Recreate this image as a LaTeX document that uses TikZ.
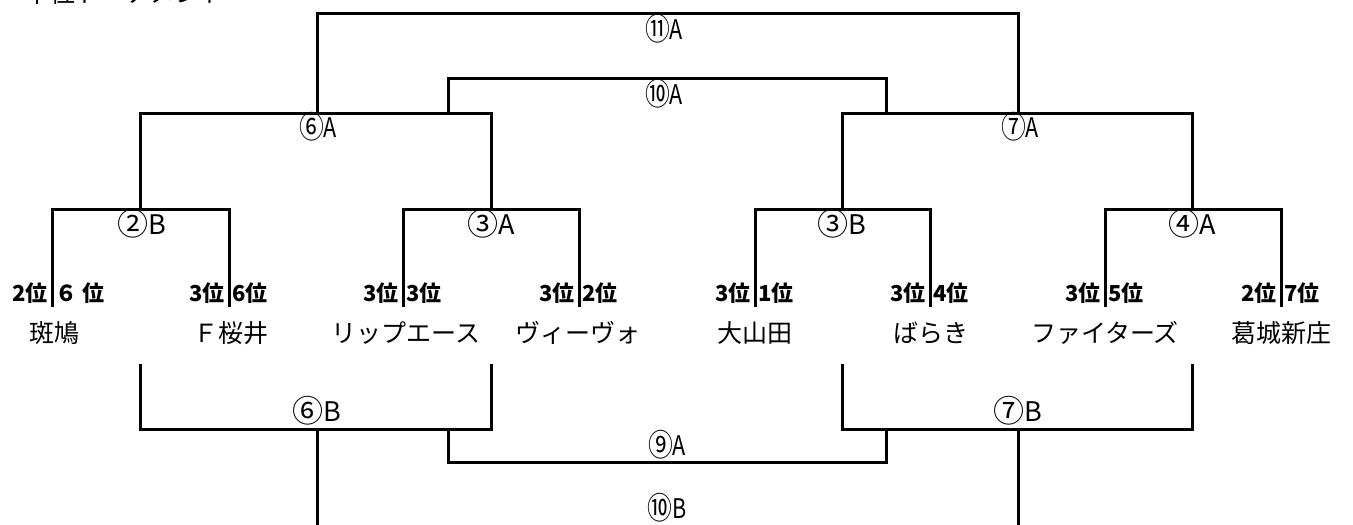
\documentclass[tikz,border=0pt]{standalone}
\usepackage{fontspec}
\setmainfont{Noto Sans CJK JP}
\newcommand\cnum[1]{\raisebox{-0.07em}{\scalebox{1.15}{#1}}}
\begin{document}
\begin{tikzpicture}[x=1pt,y=-1pt,
  ln/.style={line width=3pt, line join=miter},
  team/.style={font=\fontsize{25}{25}\selectfont, inner sep=0pt, anchor=base},
  rankL/.style={font=\fontsize{22}{22}\selectfont\bfseries, inner sep=0pt, anchor=base east},
  rankR/.style={font=\fontsize{22}{22}\selectfont\bfseries, inner sep=0pt, anchor=base west},
  lab/.style={font=\fontsize{27}{27}\selectfont, inner sep=0pt, anchor=base},
  labn/.style={font=\fontsize{27}{27}\selectfont, inner sep=0pt, anchor=base, xscale=0.8},
  ttl/.style={font=\fontsize{25}{25}\selectfont, inner sep=0pt, anchor=base west}]
\useasboundingbox (0,0) rectangle (1353,525);
\clip (0,0) rectangle (1353,525);
% title (cut off at top in the reference)
\node[ttl] (title) at (25,2) {下位トーナメント};
% team line ends
\foreach \n/\x in {1/52,2/229,3/403,4/579,5/755,6/930,7/1105,8/1281}{
  \coordinate (t\n) at (\x,307);
}
\coordinate (r1) at (140,209);
\coordinate (r2) at (491,209);
\coordinate (r3) at (842,209);
\coordinate (r4) at (1192,209);
\coordinate (s1) at (317,113);
\coordinate (s2) at (1018,113);
\coordinate (q1) at (448,113);
\coordinate (q2) at (886,113);
\coordinate (fa) at (667,78);
\coordinate (top) at (667,13);
\coordinate (b1) at (140,364);
\coordinate (b2) at (491,364);
\coordinate (b3) at (842,364);
\coordinate (b4) at (1192,364);
\coordinate (l1) at (317,429);
\coordinate (l2) at (1018,429);
\coordinate (p1) at (448,429);
\coordinate (p2) at (886,429);
\coordinate (na) at (667,462);
\coordinate (e1) at (317,530);
\coordinate (e2) at (1018,530);
% upper lines
\draw[ln] (t1) |- (r1) -| (t2);
\draw[ln] (t3) |- (r2) -| (t4);
\draw[ln] (t5) |- (r3) -| (t6);
\draw[ln] (t7) |- (r4) -| (t8);
\draw[ln] (r1) |- (s1) -| (r2);
\draw[ln] (r3) |- (s2) -| (r4);
\draw[ln] (q1) |- (fa) -| (q2);
\draw[ln] (s1) |- (top) -| (s2);
% lower lines
\draw[ln] (b1) |- (l1) -| (b2);
\draw[ln] (b3) |- (l2) -| (b4);
\draw[ln] (p1) |- (na) -| (p2);
\draw[ln] (l1) -- (e1);
\draw[ln] (l2) -- (e2);
% match labels
\node[labn] (m11a) at (664,39) {\cnum{⑪}A};
\node[labn] (m10a) at (664,104) {\cnum{⑩}A};
\node[labn] (m6a) at (318,137) {\cnum{⑥}A};
\node[labn] (m7a) at (1020,137) {\cnum{⑦}A};
\node[lab] (m2b) at (142,234) {\cnum{②}B};
\node[lab] (m3a) at (491,234) {\cnum{③}A};
\node[lab] (m3b) at (842,234) {\cnum{③}B};
\node[lab] (m4a) at (1192,234) {\cnum{④}A};
\node[lab] (m6b) at (317,421) {\cnum{⑥}B};
\node[lab] (m7b) at (1018,421) {\cnum{⑦}B};
\node[labn] (m9a) at (667,455) {\cnum{⑨}A};
\node[labn] (m10b) at (667,518) {\cnum{⑩}B};
% ranks
\foreach \n/\x/\a/\b in {1/52/2位/６ 位,2/229/3位/6位,3/403/3位/3位,4/579/3位/2位,5/755/3位/1位,6/930/3位/4位,7/1105/3位/5位,8/1281/2位/7位}{
  \node[rankL] (ra\n) at (\x-4,301) {\a};
  \node[rankR] (rb\n) at (\x+3,301) {\b};
}
% teams
\foreach \n/\x/\t in {1/55/斑鳩,2/231/Ｆ桜井,3/406/リップエース,4/578/ヴィーヴォ,5/755/大山田,6/931/ばらき,7/1105/ファイターズ,8/1281/葛城新庄}{
  \node[team] (tm\n) at (\x,342) {\t};
}
\end{tikzpicture}
\end{document}
